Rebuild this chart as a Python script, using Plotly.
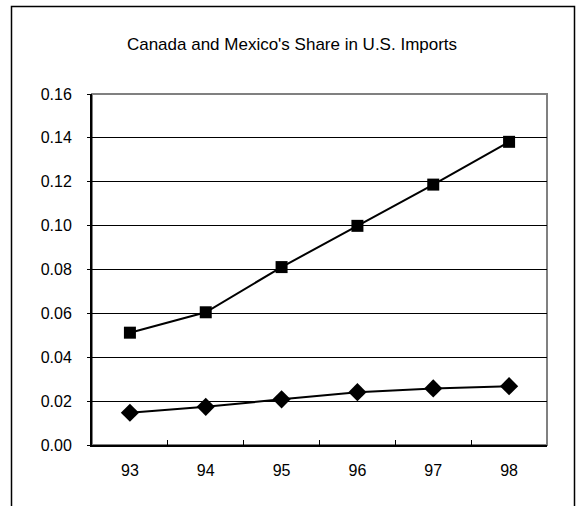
import plotly.graph_objects as go

# Year labels and the two import-share series
years = ["93", "94", "95", "96", "97", "98"]
upper_share = [0.0512, 0.0605, 0.0811, 0.0999, 0.1187, 0.1382]
lower_share = [0.0147, 0.0174, 0.0208, 0.0241, 0.0258, 0.0268]
y_ticks = [0.00, 0.02, 0.04, 0.06, 0.08, 0.10, 0.12, 0.14, 0.16]
title_text = "Canada and Mexico's Share in U.S. Imports"

W, H = 577, 506
L, R, T, B = 92, 547, 94, 445  # plot-area pixel edges
pw, ph = R - L, B - T


def px_x(x):
    return (x - L) / pw


def px_y(y):
    return (B - y) / ph


font = "Liberation Sans, Arial, sans-serif"

fig = go.Figure()
fig.add_trace(go.Scatter(
    x=years, y=upper_share, mode="lines+markers",
    line=dict(color="black", width=2),
    marker=dict(symbol="square", size=12, color="black"),
    showlegend=False, cliponaxis=False,
))
fig.add_trace(go.Scatter(
    x=years, y=lower_share, mode="lines+markers",
    line=dict(color="black", width=2),
    marker=dict(symbol="diamond", size=14, color="black"),
    showlegend=False, cliponaxis=False,
))

shapes = [
    # grey frame around the plot area (top/right edges visible)
    dict(type="rect", xref="paper", yref="paper", x0=0, x1=1, y0=0, y1=1,
         line=dict(color="#808080", width=2), layer="below"),
    # outer chart border
    dict(type="rect", xref="paper", yref="paper",
         x0=px_x(11.5), x1=px_x(574.5), y0=px_y(520), y1=px_y(6.5),
         line=dict(color="black", width=1.5), layer="below"),
]

fig.update_layout(
    width=W, height=H,
    margin=dict(l=L, r=W - R, t=T, b=H - B),
    paper_bgcolor="white", plot_bgcolor="white",
    font=dict(family=font, size=16, color="black"),
    title=dict(text=title_text, x=px_x(292), xref="paper", xanchor="center",
               y=1 - 44 / H, yref="container", yanchor="middle",
               font=dict(family=font, size=17, color="black")),
    shapes=shapes,
    xaxis=dict(
        type="category", range=[-0.5, 5.5], showgrid=False,
        showline=True, linecolor="black", linewidth=2,
        ticks="inside", tickson="boundaries", ticklen=5, tickcolor="black",
        tickfont=dict(size=16), zeroline=False, ticklabelstandoff=10,
    ),
    yaxis=dict(
        range=[0, 0.16], tickvals=y_ticks, tickformat=".2f",
        showgrid=True, gridcolor="black", gridwidth=1,
        showline=True, linecolor="black", linewidth=2,
        ticks="outside", ticklen=3, tickcolor="black",
        tickfont=dict(size=16), zeroline=False, ticklabelstandoff=12,
    ),
)

fig.write_html("out.html")
